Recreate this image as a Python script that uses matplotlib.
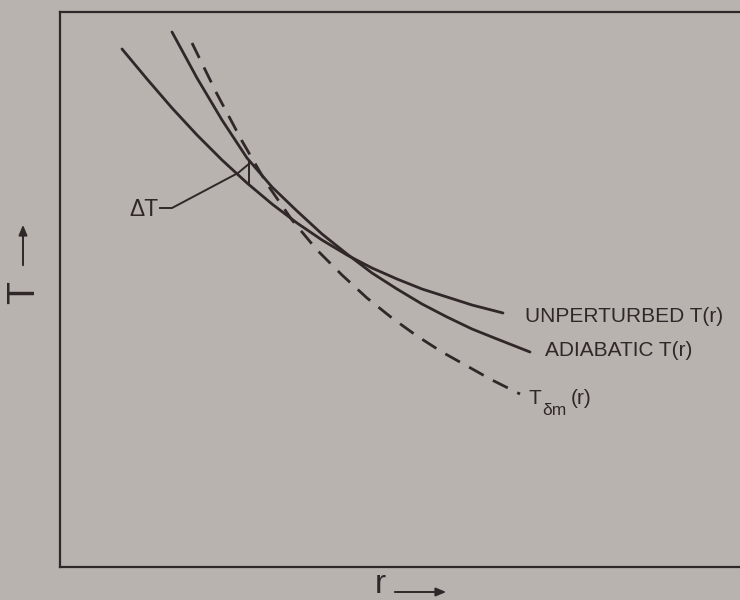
import matplotlib
matplotlib.use("Agg")
import matplotlib.pyplot as plt
from matplotlib.patches import FancyArrowPatch

plt.rcParams['font.family'] = ['Liberation Sans', 'DejaVu Sans']

# Schematic temperature profiles T(r), arbitrary units
r_unpert = [62, 87, 112, 137, 162, 187, 212, 237, 262, 287, 312, 337, 362, 387, 412, 443]
T_unpert = [518, 488, 459, 432, 407, 384, 363, 344, 327, 312, 299, 288, 278, 270, 262, 254]

r_adiab = [112, 137, 162, 187, 212, 237, 262, 287, 312, 337, 362, 387, 412, 437, 470]
T_adiab = [535, 489, 447, 409, 380, 356, 333, 313, 294, 278, 263, 250, 238, 228, 215]

r_dm = [132, 157, 182, 207, 232, 257, 282, 307, 332, 357, 382, 407, 432, 460]
T_dm = [524, 473, 426, 383, 347, 317, 292, 269, 249, 231, 215, 201, 187, 173]

# Temperature jump marker between adiabatic and unperturbed curves
dT_r = 189
dT_top = 405
dT_bot = 383
dT_leader_r = [100, 112, 178, 190]
dT_leader_T = [359, 359, 394, 404]

labels = ["UNPERTURBED T(r)", "ADIABATIC T(r)", "ΔT"]
dm_parts = ["T", "δm", "(r)"]

ink = '#302729'
bg = '#b9b3b0'

W, H = 740, 600
fig = plt.figure(figsize=(W / 100, H / 100), dpi=100, facecolor=bg)
left, top, bottom = 60, 12, 567
ax = fig.add_axes([left / W, 1 - bottom / H, 720 / W, (bottom - top) / H])
ax.set_facecolor(bg)
ax.set_xlim(0, 720)
ax.set_ylim(0, bottom - top)
ax.set_xticks([])
ax.set_yticks([])
for side in ['left', 'top', 'bottom']:
    ax.spines[side].set_color(ink)
    ax.spines[side].set_linewidth(1.6)
ax.spines['right'].set_visible(False)

lw = 2.0
ax.plot(r_unpert, T_unpert, color=ink, lw=lw, solid_capstyle='round', solid_joinstyle='round')
ax.plot(r_adiab, T_adiab, color=ink, lw=lw, solid_capstyle='round', solid_joinstyle='round')
ax.plot(r_dm, T_dm, color=ink, lw=lw, linestyle=(0, (6.0, 3.8)))

ax.plot([dT_r, dT_r], [dT_bot, dT_top], color=ink, lw=1.4)
ax.plot(dT_leader_r, dT_leader_T, color=ink, lw=1.4)

fs = 15
ax.text(465, 251, labels[0], fontsize=fs, color=ink, va='center', ha='left')
ax.text(485, 216, labels[1], fontsize=fs, color=ink, va='center', ha='left')
ax.text(98, 357, labels[2], fontsize=16.5, color=ink, va='center', ha='right')

# T_dm(r) label built from main letter, subscript and argument
ax.text(468, 163, dm_parts[0], fontsize=fs, color=ink, va='baseline', ha='left')
ax.text(482, 152, dm_parts[1], fontsize=12.5, color=ink, va='baseline', ha='left')
ax.text(511, 163, dm_parts[2], fontsize=fs, color=ink, va='baseline', ha='left')

# Axis names with arrows
fig.text(24 / W, 1 - 292 / H, "T", rotation=90, fontsize=27, color=ink,
         ha='center', va='center')
fig.add_artist(FancyArrowPatch(
    (23 / W, 1 - 268 / H), (23 / W, 1 - 222 / H), transform=fig.transFigure,
    arrowstyle='-|>,head_length=6,head_width=2.5', color=ink, lw=1.4))
fig.text(380 / W, 0.0, "r", fontsize=24, color=ink,
         ha='center', va='bottom')
fig.add_artist(FancyArrowPatch(
    (392 / W, 1 - 592 / H), (449 / W, 1 - 592 / H), transform=fig.transFigure,
    arrowstyle='-|>,head_length=6,head_width=2.5', color=ink, lw=1.4))

fig.savefig("out.png", dpi=100, facecolor=bg)
